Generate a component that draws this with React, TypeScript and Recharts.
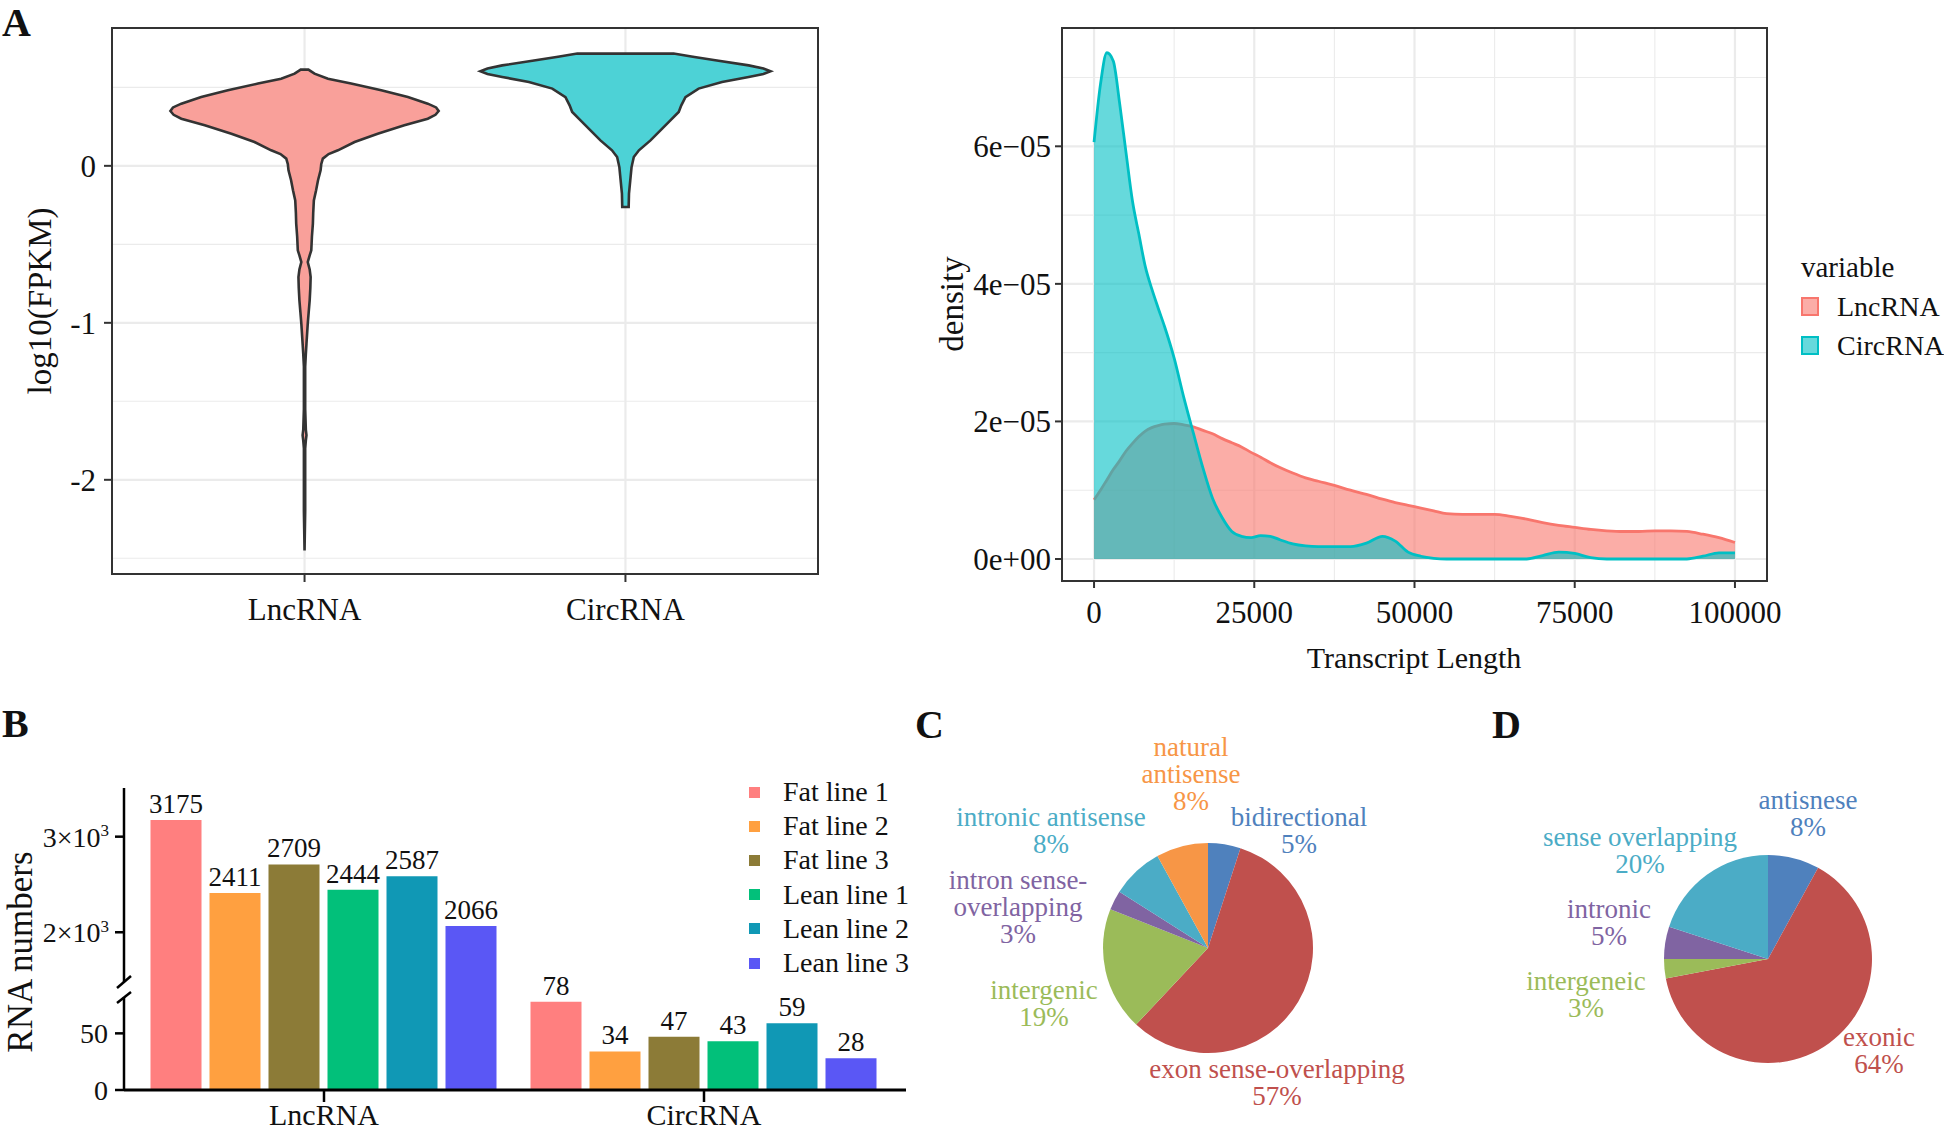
import React from "react";
import {
  ComposedChart,
  BarChart,
  PieChart,
  Scatter,
  Area,
  Bar,
  Pie,
  Cell,
  XAxis,
  YAxis,
  CartesianGrid,
  ReferenceArea,
  LabelList,
  Legend,
} from "recharts";

const FONT = '"Liberation Serif", "Times New Roman", Times, serif';
const INK = "#111";
const GRID = "#EBEBEB";
const FRAME = "#333";

// ---------- A (left): log10(FPKM) violins ----------
const VIOLIN_GROUPS = ["LncRNA", "CircRNA"];
// y levels (bottom -> top) and half widths (x units)
const LNC_VIOLIN_Y = [
  -2.45, -2.2, -1.95, -1.8, -1.75, -1.716, -1.68, -1.55, -1.4, -1.28, -1.2, -1.133, -1.005, -0.93, -0.857, -0.78,
  -0.708, -0.66, -0.613, -0.57, -0.538, -0.45, -0.368, -0.3, -0.22, -0.156, -0.092, -0.029, 0.01, 0.046, 0.075, 0.099,
  0.152, 0.205, 0.258, 0.3, 0.325, 0.349, 0.372, 0.396, 0.438, 0.481, 0.524, 0.555, 0.587, 0.605, 0.613,
];
const LNC_VIOLIN_W = [
  0, 0.002, 0.002, 0.002, 0.004, 0.006, 0.004, 0.002, 0.002, 0.002, 0.004, 0.006, 0.01, 0.013, 0.016, 0.018, 0.019,
  0.016, 0.01, 0.016, 0.021, 0.023, 0.026, 0.027, 0.029, 0.036, 0.042, 0.05, 0.052, 0.057, 0.075, 0.104, 0.156, 0.228,
  0.311, 0.384, 0.408, 0.418, 0.41, 0.384, 0.322, 0.239, 0.145, 0.073, 0.031, 0.018, 0.012,
];
const CIRC_VIOLIN_Y = [
  -0.262, -0.177, -0.092, -0.008, 0.056, 0.099, 0.162, 0.226, 0.29, 0.343, 0.385, 0.438, 0.492, 0.534, 0.566, 0.585,
  0.602, 0.62, 0.64, 0.672, 0.695, 0.715,
];
const CIRC_VIOLIN_W = [
  0.01, 0.011, 0.015, 0.019, 0.026, 0.042, 0.078, 0.109, 0.14, 0.166, 0.174, 0.187, 0.228, 0.301, 0.384, 0.43, 0.452,
  0.43, 0.384, 0.28, 0.21, 0.15,
];

// ---------- A (right): transcript length density ----------
const DENSITY_SERIES = ["LncRNA", "CircRNA"];
const LENGTH_X = [
  0, 1000, 2000, 3000, 4000, 5000, 6000, 7000, 8000, 9000, 10000, 11000, 12500, 14000, 15500, 17000, 18500, 20000,
  21500, 23000, 24500, 26000, 27500, 29000, 31000, 33000, 35000, 37500, 40000, 42500, 45000, 47000, 49000, 51000, 53000,
  55000, 57500, 60000, 62500, 65000, 67500, 70000, 72500, 75000, 77500, 80000, 82500, 85000, 87500, 90000, 92500, 95000,
  97500, 100000,
];
const LNC_DENSITY = [
  0.86e-5, 1.0e-5, 1.15e-5, 1.3e-5, 1.43e-5, 1.57e-5, 1.68e-5, 1.78e-5, 1.86e-5, 1.91e-5, 1.94e-5, 1.96e-5, 1.97e-5,
  1.95e-5, 1.92e-5, 1.87e-5, 1.82e-5, 1.75e-5, 1.69e-5, 1.63e-5, 1.55e-5, 1.48e-5, 1.4e-5, 1.33e-5, 1.25e-5, 1.18e-5,
  1.13e-5, 1.07e-5, 1.0e-5, 0.94e-5, 0.87e-5, 0.82e-5, 0.78e-5, 0.74e-5, 0.7e-5, 0.66e-5, 0.65e-5, 0.65e-5, 0.65e-5,
  0.62e-5, 0.58e-5, 0.53e-5, 0.49e-5, 0.46e-5, 0.43e-5, 0.41e-5, 0.4e-5, 0.4e-5, 0.41e-5, 0.41e-5, 0.4e-5, 0.36e-5,
  0.31e-5, 0.24e-5,
];
const CIRC_DENSITY = [
  6.06e-5, 6.9e-5, 7.36e-5, 7.24e-5, 6.62e-5, 5.9e-5, 5.2e-5, 4.72e-5, 4.25e-5, 3.93e-5, 3.65e-5, 3.38e-5, 2.92e-5,
  2.35e-5, 1.83e-5, 1.32e-5, 0.88e-5, 0.6e-5, 0.4e-5, 0.33e-5, 0.31e-5, 0.34e-5, 0.33e-5, 0.28e-5, 0.22e-5, 0.19e-5,
  0.18e-5, 0.18e-5, 0.18e-5, 0.23e-5, 0.33e-5, 0.26e-5, 0.1e-5, 0.04e-5, 0.01e-5, 0, 0, 0, 0, 0, 0, 0.05e-5, 0.1e-5,
  0.08e-5, 0.02e-5, 0, 0, 0, 0, 0, 0, 0.04e-5, 0.09e-5, 0.09e-5,
];
const DENSITY_FILL: Record<string, string> = { LncRNA: "rgba(248,118,109,0.6)", CircRNA: "rgba(0,191,196,0.6)" };

// ---------- B: RNA numbers ----------
const BAR_GROUPS = ["LncRNA", "CircRNA"];
const BAR_LINES = ["Fat line 1", "Fat line 2", "Fat line 3", "Lean line 1", "Lean line 2", "Lean line 3"];
const FAT_LINE_1 = [3175, 78];
const FAT_LINE_2 = [2411, 34];
const FAT_LINE_3 = [2709, 47];
const LEAN_LINE_1 = [2444, 43];
const LEAN_LINE_2 = [2587, 59];
const LEAN_LINE_3 = [2066, 28];
const BAR_COLORS = ["#FF7F7F", "#FFA040", "#8C7B37", "#02C07A", "#1098B5", "#5A57F5"];
const UPPER_MIN = 1323;
const UPPER_MAX = 3509;
const LOWER_MAX = 82.1;

// ---------- C / D: pies ----------
const PIE_C_NAMES = [
  "bidirectional",
  "exon sense-overlapping",
  "intergenic",
  "intron sense-\noverlapping",
  "intronic antisense",
  "natural\nantisense",
];
const PIE_C_VALUES = [5, 57, 19, 3, 8, 8];
const PIE_C_COLORS = ["#4F81BD", "#C0504D", "#9BBB59", "#8064A2", "#4BACC6", "#F79646"];
const PIE_D_NAMES = ["antisnese", "exonic", "intergeneic", "intronic", "sense overlapping"];
const PIE_D_VALUES = [8, 64, 3, 5, 20];
const PIE_D_COLORS = ["#4F81BD", "#C0504D", "#9BBB59", "#8064A2", "#4BACC6"];

// label anchors relative to pie centre (layout only)
const PIE_C_LABEL_POS = [[96, -126], [74, 126], [-159, 47], [-185, -63], [-152, -126], [-12, -196]];
const PIE_D_LABEL_POS = [[45, -154], [116, 83], [-177, 27], [-154, -45], [-123, -117]];

const tickFont = { fontSize: 31, fontFamily: FONT, fill: INK };

function violinOutline(pos: number, ys: number[], ws: number[]) {
  const right = ys.map((y, i) => ({ x: pos + ws[i], y }));
  const left = ys.map((y, i) => ({ x: pos - ws[i], y })).reverse();
  return [...right, ...left];
}

function ViolinChart() {
  const lnc = violinOutline(1, LNC_VIOLIN_Y, LNC_VIOLIN_W);
  const circ = violinOutline(2, CIRC_VIOLIN_Y, CIRC_VIOLIN_W);
  return (
    <ComposedChart width={840} height={650} margin={{ top: 28, right: 22, bottom: 0, left: 52 }}>
      <CartesianGrid vertical={false} horizontalValues={[-2.5, -1.5, -0.5, 0.5]} stroke={GRID} strokeWidth={1.1} />
      <CartesianGrid horizontalValues={[-2, -1, 0]} verticalValues={[1, 2]} stroke={GRID} strokeWidth={2.2} />
      <XAxis
        type="number"
        dataKey="x"
        domain={[0.4, 2.6]}
        allowDataOverflow
        ticks={[1, 2]}
        interval={0}
        tickFormatter={(v) => VIOLIN_GROUPS[Number(v) - 1]}
        axisLine={false}
        tickLine={{ stroke: FRAME, strokeWidth: 2 }}
        tickSize={8}
        tickMargin={16}
        height={76}
        tick={tickFont}
      />
      <YAxis
        type="number"
        dataKey="y"
        domain={[-2.6, 0.878]}
        allowDataOverflow
        ticks={[-2, -1, 0]}
        interval={0}
        width={60}
        axisLine={false}
        tickLine={{ stroke: FRAME, strokeWidth: 2 }}
        tickSize={8}
        tickMargin={8}
        tick={tickFont}
      />
      <Scatter
        data={lnc}
        line={{ stroke: FRAME, strokeWidth: 2.6, fill: "#F9A09A" }}
        lineJointType="linearClosed"
        shape={() => <g />}
        isAnimationActive={false}
      />
      <Scatter
        data={circ}
        line={{ stroke: FRAME, strokeWidth: 2.6, fill: "#4DD2D6" }}
        lineJointType="linearClosed"
        shape={() => <g />}
        isAnimationActive={false}
      />
      <ReferenceArea x1={0.4} x2={2.6} y1={-2.6} y2={0.878} fill="none" stroke={FRAME} strokeWidth={2} ifOverflow="visible" />
    </ComposedChart>
  );
}

function DensityLegend(props: any) {
  const payload = [...(props.payload || [])].sort(
    (a: any, b: any) => DENSITY_SERIES.indexOf(a.value) - DENSITY_SERIES.indexOf(b.value),
  );
  return (
    <div style={{ fontFamily: FONT, color: INK }}>
      <div style={{ fontSize: 29, height: 39, lineHeight: "39px" }}>variable</div>
      {payload.map((p: any) => (
        <div key={p.value} style={{ display: "flex", alignItems: "center", height: 39 }}>
          <span
            style={{
              boxSizing: "border-box",
              width: 18,
              height: 19,
              border: `2.5px solid ${p.color}`,
              background: DENSITY_FILL[p.value],
              marginRight: 18,
              flex: "none",
            }}
          />
          <span style={{ fontSize: 28, lineHeight: 1 }}>{p.value}</span>
        </div>
      ))}
    </div>
  );
}

const sciFmt = (v: number) => (v === 0 ? "0e+00" : `${Math.round(v * 1e5)}e\u221205`);

function DensityChart() {
  const rows = LENGTH_X.map((x, i) => ({ x, LncRNA: LNC_DENSITY[i], CircRNA: CIRC_DENSITY[i] }));
  return (
    <ComposedChart width={1104} height={700} data={rows} margin={{ top: 28, right: 177, bottom: 0, left: 122 }}>
      <CartesianGrid
        horizontalValues={[1e-5, 3e-5, 5e-5, 7e-5]}
        verticalValues={[12500, 37500, 62500, 87500]}
        stroke={GRID}
        strokeWidth={1.1}
      />
      <CartesianGrid
        horizontalValues={[0, 2e-5, 4e-5, 6e-5]}
        verticalValues={[0, 25000, 50000, 75000, 100000]}
        stroke={GRID}
        strokeWidth={2.2}
      />
      <XAxis
        type="number"
        dataKey="x"
        domain={[-5000, 105000]}
        allowDataOverflow
        ticks={[0, 25000, 50000, 75000, 100000]}
        interval={0}
        axisLine={false}
        tickLine={{ stroke: FRAME, strokeWidth: 2 }}
        tickSize={7}
        tickMargin={13}
        height={119}
        tick={tickFont}
      />
      <YAxis
        type="number"
        domain={[-0.32e-5, 7.72e-5]}
        allowDataOverflow
        ticks={[0, 2e-5, 4e-5, 6e-5]}
        interval={0}
        tickFormatter={(v) => sciFmt(Number(v))}
        width={100}
        axisLine={false}
        tickLine={{ stroke: FRAME, strokeWidth: 2 }}
        tickSize={7}
        tickMargin={4}
        tick={tickFont}
      />
      <Area
        type="monotone"
        dataKey="LncRNA"
        name="LncRNA"
        stroke="#F8766D"
        strokeWidth={2.8}
        fill="#F8766D"
        fillOpacity={0.6}
        dot={false}
        activeDot={false}
        isAnimationActive={false}
      />
      <Area
        type="monotone"
        dataKey="CircRNA"
        name="CircRNA"
        stroke="#00BFC4"
        strokeWidth={2.8}
        fill="#00BFC4"
        fillOpacity={0.6}
        dot={false}
        activeDot={false}
        isAnimationActive={false}
      />
      <ReferenceArea
        x1={-5000}
        x2={105000}
        y1={-0.32e-5}
        y2={7.72e-5}
        fill="none"
        stroke={FRAME}
        strokeWidth={2}
        ifOverflow="visible"
      />
      <Legend
        layout="vertical"
        align="center"
        verticalAlign="middle"
        content={(p: any) => <DensityLegend payload={p.payload} />}
        wrapperStyle={{ left: 961, top: 248, width: 170, height: 120 }}
      />
    </ComposedChart>
  );
}

const BAR_SERIES = [FAT_LINE_1, FAT_LINE_2, FAT_LINE_3, LEAN_LINE_1, LEAN_LINE_2, LEAN_LINE_3];
const barRows = BAR_GROUPS.map((g, i) => {
  const r: Record<string, any> = { group: g };
  BAR_SERIES.forEach((s, j) => (r[BAR_LINES[j]] = s[i]));
  return r;
});

function BarLegend(props: any) {
  const payload = [...(props.payload || [])].sort(
    (a: any, b: any) => BAR_LINES.indexOf(a.value) - BAR_LINES.indexOf(b.value),
  );
  return (
    <div style={{ fontFamily: FONT, fontSize: 28, color: INK }}>
      {payload.map((p: any) => (
        <div key={p.value} style={{ display: "flex", alignItems: "center", height: 34.2 }}>
          <span style={{ width: 11, height: 11, background: p.color, marginRight: 23, flex: "none" }} />
          <span style={{ lineHeight: 1, whiteSpace: "nowrap" }}>{p.value}</span>
        </div>
      ))}
    </div>
  );
}

function SciTick(p: any) {
  const { x, y, payload } = p;
  return (
    <text x={x} y={y} dy="0.355em" textAnchor="end" fontSize={28} fontFamily={FONT} fill={INK}>
      {Math.round(payload.value / 1000)}×10
      <tspan fontSize={17} dy="-0.62em">
        3
      </tspan>
    </text>
  );
}

const labelStyle = { fontSize: 27, fontFamily: FONT, fill: INK };

function UpperBars() {
  return (
    <BarChart
      width={920}
      height={237}
      data={barRows}
      margin={{ top: 28, right: 14, bottom: 0, left: 64 }}
      barCategoryGap={16.5}
      barGap={8}
    >
      <XAxis dataKey="group" hide padding={{ left: 10, right: 12 }} />
      <YAxis
        type="number"
        domain={[UPPER_MIN, UPPER_MAX]}
        allowDataOverflow
        ticks={[2000, 3000]}
        interval={0}
        width={60}
        axisLine={{ stroke: "#000", strokeWidth: 2.5, strokeDasharray: "194 400" }}
        tickLine={{ stroke: "#000", strokeWidth: 2.5 }}
        tickSize={9}
        tickMargin={6}
        tick={(p: any) => <SciTick {...p} />}
      />
      {BAR_LINES.map((name, j) => (
        <Bar key={name} dataKey={name} name={name} fill={BAR_COLORS[j]} isAnimationActive={false}>
          <LabelList
            dataKey={name}
            position="top"
            offset={7}
            formatter={(v: any) => (v != null && Number(v) >= UPPER_MIN ? v : "")}
            {...labelStyle}
          />
        </Bar>
      ))}
      <Legend
        layout="vertical"
        align="center"
        verticalAlign="middle"
        content={(p: any) => <BarLegend payload={p.payload} />}
        wrapperStyle={{ left: 749, top: 15, width: 170, height: 210 }}
      />
    </BarChart>
  );
}

function LowerBars() {
  return (
    <BarChart
      width={920}
      height={193}
      data={barRows}
      margin={{ top: 57, right: 14, bottom: 0, left: 64 }}
      barCategoryGap={16.5}
      barGap={8}
    >
      <XAxis
        dataKey="group"
        padding={{ left: 10, right: 12 }}
        height={43}
        axisLine={{ stroke: "#000", strokeWidth: 3 }}
        tickLine={{ stroke: "#000", strokeWidth: 2.5 }}
        tickSize={12}
        tickMargin={2}
        tick={{ fontSize: 30, fontFamily: FONT, fill: INK }}
      />
      <YAxis
        type="number"
        domain={[0, LOWER_MAX]}
        allowDataOverflow
        ticks={[0, 50]}
        interval={0}
        width={60}
        axisLine={{ stroke: "#000", strokeWidth: 2.5 }}
        tickLine={{ stroke: "#000", strokeWidth: 2.5 }}
        tickSize={9}
        tickMargin={7}
        tick={{ fontSize: 28, fontFamily: FONT, fill: INK }}
      />
      {BAR_LINES.map((name, j) => (
        <Bar key={name} dataKey={name} name={name} fill={BAR_COLORS[j]} isAnimationActive={false}>
          <LabelList
            dataKey={name}
            position="top"
            offset={7}
            formatter={(v: any) => (v != null && Number(v) <= LOWER_MAX ? v : "")}
            {...labelStyle}
          />
        </Bar>
      ))}
    </BarChart>
  );
}

const pieLabel =
  (names: string[], values: number[], colors: string[], pos: number[][], cx: number, cy: number) => (p: any) => {
    const i = p.index;
    const [dx, dy] = pos[i];
    const lines = [...names[i].split("\n"), `${values[i]}%`];
    const x = cx + dx;
    const y0 = cy + dy;
    return (
      <text key={`l${i}`} x={x} y={y0} textAnchor="middle" fill={colors[i]} fontSize={27} fontFamily={FONT}>
        {lines.map((l, k) => (
          <tspan key={k} x={x} y={y0 + k * 27} dy="0.35em">
            {l}
          </tspan>
        ))}
      </text>
    );
  };

function PiePanels() {
  const c = PIE_C_NAMES.map((name, i) => ({ name, value: PIE_C_VALUES[i] }));
  const d = PIE_D_NAMES.map((name, i) => ({ name, value: PIE_D_VALUES[i] }));
  return (
    <PieChart width={1024} height={433}>
      <Pie
        data={c}
        dataKey="value"
        nameKey="name"
        cx={283}
        cy={243}
        outerRadius={105}
        startAngle={90}
        endAngle={-270}
        stroke="none"
        labelLine={false}
        label={pieLabel(PIE_C_NAMES, PIE_C_VALUES, PIE_C_COLORS, PIE_C_LABEL_POS, 283, 243)}
        isAnimationActive={false}
      >
        {c.map((_, i) => (
          <Cell key={i} fill={PIE_C_COLORS[i]} />
        ))}
      </Pie>
      <Pie
        data={d}
        dataKey="value"
        nameKey="name"
        cx={843}
        cy={254}
        outerRadius={104}
        startAngle={90}
        endAngle={-270}
        stroke="none"
        labelLine={false}
        label={pieLabel(PIE_D_NAMES, PIE_D_VALUES, PIE_D_COLORS, PIE_D_LABEL_POS, 843, 254)}
        isAnimationActive={false}
      >
        {d.map((_, i) => (
          <Cell key={i} fill={PIE_D_COLORS[i]} />
        ))}
      </Pie>
    </PieChart>
  );
}

function PanelLetter({ text, left, top }: { text: string; left: number; top: number }) {
  return (
    <div style={{ position: "absolute", left, top, fontSize: 40, fontWeight: 700, lineHeight: 1, fontFamily: FONT }}>
      {text}
    </div>
  );
}

function Title({
  text,
  x,
  y,
  size = 33,
  rotate,
}: {
  text: string;
  x: number;
  y: number;
  size?: number;
  rotate?: boolean;
}) {
  return (
    <div
      style={{
        position: "absolute",
        left: x,
        top: y,
        transform: `translate(-50%, -50%)${rotate ? " rotate(-90deg)" : ""}`,
        whiteSpace: "nowrap",
        fontSize: size,
        lineHeight: 1,
        fontFamily: FONT,
        color: INK,
      }}
    >
      {text}
    </div>
  );
}

function AxisBreak() {
  return (
    <svg style={{ position: "absolute", left: 110, top: 968 }} width={30} height={44}>
      <line x1={7} y1={20} x2={21} y2={8} stroke="#000" strokeWidth={2.5} />
      <line x1={7} y1={35} x2={21} y2={24} stroke="#000" strokeWidth={2.5} />
    </svg>
  );
}

export default function App() {
  return (
    <div
      style={{
        position: "absolute",
        left: 0,
        top: 0,
        width: 1944,
        height: 1133,
        background: "#fff",
        fontFamily: FONT,
        color: INK,
        overflow: "hidden",
      }}
    >
      <div style={{ position: "absolute", left: 0, top: 0 }}>
        <ViolinChart />
      </div>
      <Title text="log10(FPKM)" x={40} y={301} rotate />

      <div style={{ position: "absolute", left: 840, top: 0 }}>
        <DensityChart />
      </div>
      <Title text="density" x={952} y={304} rotate />
      <Title text="Transcript Length" x={1414} y={658} size={30} />

      <div style={{ position: "absolute", left: 0, top: 760 }}>
        <UpperBars />
      </div>
      <div style={{ position: "absolute", left: 0, top: 940 }}>
        <LowerBars />
      </div>
      <AxisBreak />
      <Title text="RNA numbers" x={20} y={952} size={35} rotate />

      <div style={{ position: "absolute", left: 920, top: 700 }}>
        <PiePanels />
      </div>

      <PanelLetter text="A" left={2} top={3} />
      <PanelLetter text="B" left={2} top={704} />
      <PanelLetter text="C" left={915} top={705} />
      <PanelLetter text="D" left={1492} top={705} />
    </div>
  );
}
